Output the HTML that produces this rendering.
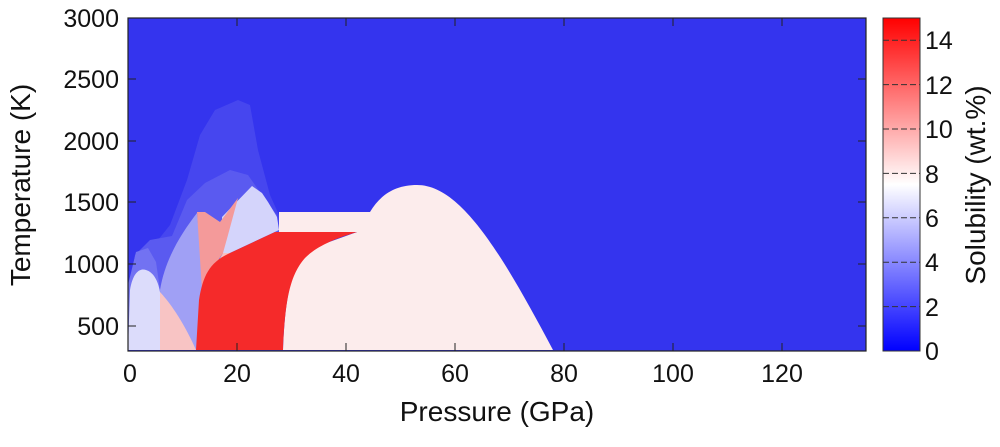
<!DOCTYPE html>
<html><head><meta charset="utf-8"><style>
body{margin:0;background:#fff;}
svg text{font-family:"Liberation Sans",sans-serif;fill:#111;}
</style></head><body>
<svg width="1000" height="442" viewBox="0 0 1000 442" xmlns="http://www.w3.org/2000/svg">
<defs>
<linearGradient id="cb" x1="0" y1="1" x2="0" y2="0">
<stop offset="0" stop-color="#0000ff"/>
<stop offset="0.5" stop-color="#ffffff"/>
<stop offset="1" stop-color="#ff0000"/>
</linearGradient>
<clipPath id="pc"><rect x="128" y="18" width="738" height="333"/></clipPath>
</defs>
<g clip-path="url(#pc)">
<rect x="128" y="18" width="738" height="333" fill="#3434ee"/>
<!-- faint haze -->
<path d="M128,300 L150,250 L170,225 L187,180 L200,135 L215,110 L238,100 L250,105 L258,150 L270,195 L279,215 L279,232 L196,350 L128,350 Z" fill="#4646ef"/>
<path d="M128,300 L135,255 L150,240 L172,236 L187,200 L205,183 L230,170 L248,175 L262,195 L277,215 L279,232 L196,350 Z" fill="#5a5af0"/>
<path d="M128,285 L136,252 L148,248 L156,262 L160,290 L128,350 Z" fill="#7272f2"/>
<!-- periwinkle -->
<path d="M160,290 C165,260 180,235 197,213 L203,277 L198,350 L163,350 Z" fill="#a0a0f5"/>
<!-- left lavender dome -->
<path d="M128,350 L130,290 C133,272 140,268 146,270 C153,272 158,280 160,292 L160,350 Z" fill="#dcdcfb"/>
<!-- pink wedge -->
<path d="M160,292 L160,350 L196,350 C185,325 172,305 160,292 Z" fill="#f8c4c4"/>
<!-- lavender -->
<path d="M222,217 L252,186 L262,193 L268,202 L277,217 L279,230 L230,253 L223,253 Z" fill="#d4d4fb"/>
<!-- salmon -->
<path d="M197,212 L205,212 L220,222 L238,198 L228,235 L223,253 L207,277 L202,290 Z" fill="#f49a9a"/>
<path d="M202,290 L223,253 L230,253 L210,275 L200,305 Z" fill="#f8c0c0"/>
<!-- pale band + dome -->
<path d="M279,212 L370,212 C380,195 395,185 417,185 C460,185 500,250 553,350 L283,350 C285,300 290,270 307,250 L357,232 L279,232 Z" fill="#fcecec"/>
<!-- red block -->
<path d="M196,350 L199,300 C203,275 210,262 230,253 L275,232 L357,232 C330,240 315,248 305,258 C290,275 285,300 283,350 Z" fill="#f52a2a"/>
</g>
<rect x="128" y="18" width="738" height="333" fill="none" stroke="#222" stroke-width="1.2"/>
<g stroke="#222" stroke-width="1">
<line x1="128" y1="326" x2="136" y2="326"/><line x1="128" y1="264" x2="136" y2="264"/><line x1="128" y1="202" x2="136" y2="202"/><line x1="128" y1="141" x2="136" y2="141"/><line x1="128" y1="79" x2="136" y2="79"/>
<line x1="866" y1="326" x2="858" y2="326"/><line x1="866" y1="264" x2="858" y2="264"/><line x1="866" y1="202" x2="858" y2="202"/><line x1="866" y1="141" x2="858" y2="141"/><line x1="866" y1="79" x2="858" y2="79"/>
<line x1="237" y1="351" x2="237" y2="343"/><line x1="346" y1="351" x2="346" y2="343"/><line x1="455" y1="351" x2="455" y2="343"/><line x1="564" y1="351" x2="564" y2="343"/><line x1="673" y1="351" x2="673" y2="343"/><line x1="782" y1="351" x2="782" y2="343"/>
<line x1="237" y1="18" x2="237" y2="26"/><line x1="346" y1="18" x2="346" y2="26"/><line x1="455" y1="18" x2="455" y2="26"/><line x1="564" y1="18" x2="564" y2="26"/><line x1="673" y1="18" x2="673" y2="26"/><line x1="782" y1="18" x2="782" y2="26"/>
</g>
<g font-size="25" text-anchor="end">
<text x="119" y="335">500</text><text x="119" y="273">1000</text><text x="119" y="211">1500</text><text x="119" y="150">2000</text><text x="119" y="88">2500</text><text x="119" y="27">3000</text>
</g>
<g font-size="25" text-anchor="middle">
<text x="130" y="382">0</text><text x="237" y="382">20</text><text x="346" y="382">40</text><text x="455" y="382">60</text><text x="564" y="382">80</text><text x="673" y="382">100</text><text x="782" y="382">120</text>
</g>
<text x="497" y="421" font-size="28" text-anchor="middle">Pressure (GPa)</text>
<text transform="translate(30,185) rotate(-90)" font-size="28" text-anchor="middle">Temperature (K)</text>
<rect x="883" y="18" width="37" height="333" fill="url(#cb)" stroke="#333" stroke-width="1"/>
<g stroke="#333" stroke-width="1" stroke-dasharray="6,3">
<line x1="883" y1="306.6" x2="920" y2="306.6"/><line x1="883" y1="262.2" x2="920" y2="262.2"/><line x1="883" y1="217.8" x2="920" y2="217.8"/><line x1="883" y1="173.4" x2="920" y2="173.4"/><line x1="883" y1="129" x2="920" y2="129"/><line x1="883" y1="84.6" x2="920" y2="84.6"/><line x1="883" y1="40.2" x2="920" y2="40.2"/>
</g>
<g font-size="25">
<text x="925" y="360">0</text><text x="925" y="316">2</text><text x="925" y="271">4</text><text x="925" y="227">6</text><text x="925" y="183">8</text><text x="925" y="138">10</text><text x="925" y="94">12</text><text x="925" y="49">14</text>
</g>
<text transform="translate(985,185) rotate(-90)" font-size="28" text-anchor="middle">Solubility (wt.%)</text>
</svg>
</body></html>
